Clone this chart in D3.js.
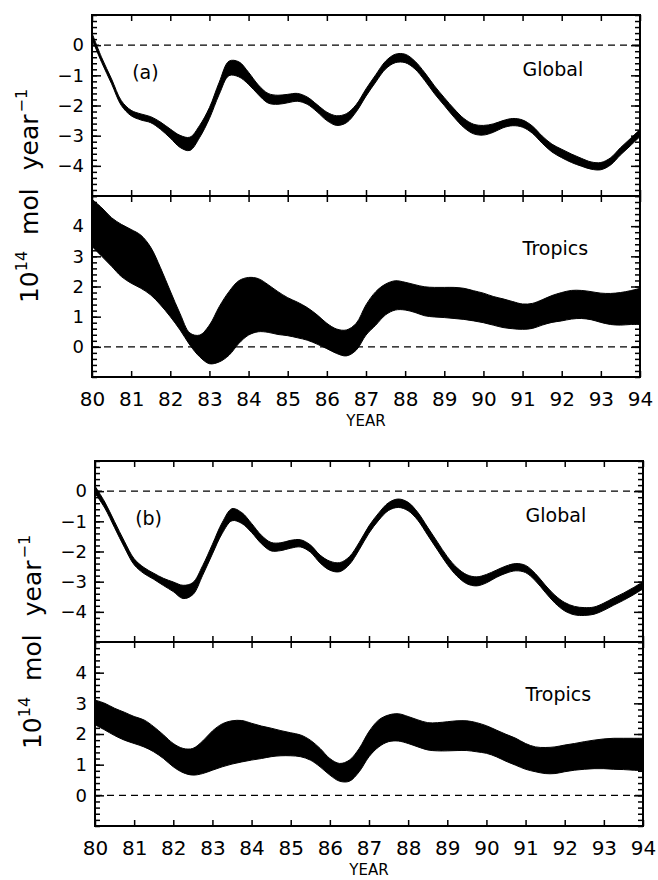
<!DOCTYPE html>
<html>
<head>
<meta charset="utf-8">
<script src="https://cdn.jsdelivr.net/npm/d3@7"></script>
<style>
  html, body { margin: 0; padding: 0; background: #fff; }
  svg { display: block; }
</style>
</head>
<body>
<div id="chart"></div>
<script>
// x grid the bands were read on (years 19xx)
const years = [80, 80.25, 80.5, 80.75, 81, 81.25, 81.5, 81.75, 82, 82.25, 82.5, 82.75,
  83, 83.25, 83.5, 83.75, 84, 84.25, 84.5, 84.75, 85, 85.25, 85.5, 85.75,
  86, 86.25, 86.5, 86.75, 87, 87.25, 87.5, 87.75, 88, 88.25, 88.5, 88.75,
  89, 89.25, 89.5, 89.75, 90, 90.25, 90.5, 90.75, 91, 91.25, 91.5, 91.75,
  92, 92.25, 92.5, 92.75, 93, 93.25, 93.5, 93.75, 94];

const yearTicks = [80, 81, 82, 83, 84, 85, 86, 87, 88, 89, 90, 91, 92, 93, 94];
const globalTicks = [0, -1, -2, -3, -4];
const tropicsTicks = [0, 1, 2, 3, 4];

// (a) global band
const globalALow = [0.2, -0.58, -1.28, -2.0, -2.34, -2.48, -2.57, -2.79, -3.08, -3.39, -3.49, -3.06,
  -2.43, -1.63, -1.01, -1.05, -1.3, -1.64, -1.92, -1.96, -1.91, -1.86, -1.96, -2.21,
  -2.5, -2.66, -2.57, -2.21, -1.69, -1.22, -0.79, -0.58, -0.58, -0.79, -1.17, -1.61,
  -2.0, -2.39, -2.73, -2.94, -2.98, -2.89, -2.74, -2.67, -2.72, -2.92, -3.25, -3.54,
  -3.73, -3.89, -4.01, -4.11, -4.13, -3.97, -3.64, -3.34, -3.03];
const globalAHigh = [0.4, -0.42, -1.12, -1.84, -2.16, -2.28, -2.37, -2.55, -2.78, -2.99, -3.05, -2.66,
  -2.07, -1.23, -0.53, -0.55, -0.9, -1.32, -1.6, -1.66, -1.63, -1.6, -1.72, -1.97,
  -2.22, -2.34, -2.27, -1.97, -1.45, -0.98, -0.53, -0.3, -0.3, -0.53, -0.91, -1.35,
  -1.74, -2.11, -2.43, -2.62, -2.66, -2.61, -2.5, -2.43, -2.48, -2.68, -3.01, -3.28,
  -3.45, -3.61, -3.75, -3.87, -3.89, -3.73, -3.4, -3.1, -2.79];

// (a) tropics band
const tropicsALow = [3.33, 3.0, 2.67, 2.33, 2.11, 1.94, 1.72, 1.39, 1.0, 0.56, 0.06, -0.33,
  -0.56, -0.5, -0.28, 0.11, 0.39, 0.5, 0.48, 0.41, 0.37, 0.3, 0.22, 0.09,
  -0.06, -0.22, -0.3, -0.11, 0.39, 0.72, 1.06, 1.22, 1.22, 1.14, 1.03, 0.99,
  0.97, 0.94, 0.91, 0.86, 0.8, 0.72, 0.64, 0.6, 0.58, 0.61, 0.72, 0.81,
  0.86, 0.92, 0.94, 0.9, 0.81, 0.74, 0.72, 0.74, 0.74];
const tropicsAHigh = [4.89, 4.61, 4.28, 4.06, 3.89, 3.7, 3.3, 2.62, 1.85, 1.1, 0.46, 0.39,
  0.72, 1.33, 1.83, 2.19, 2.3, 2.26, 2.06, 1.83, 1.63, 1.48, 1.3, 1.06,
  0.78, 0.59, 0.56, 0.78, 1.39, 1.83, 2.08, 2.19, 2.14, 2.06, 1.99, 1.97,
  1.97, 1.97, 1.94, 1.86, 1.78, 1.67, 1.59, 1.5, 1.42, 1.44, 1.56, 1.7,
  1.8, 1.87, 1.87, 1.83, 1.78, 1.77, 1.8, 1.86, 1.94];

// (b) global band
const globalBLow = [-0.07, -0.56, -1.21, -1.86, -2.44, -2.73, -2.92, -3.13, -3.33, -3.56, -3.43, -2.79,
  -2.08, -1.4, -0.98, -1.07, -1.37, -1.74, -1.98, -1.97, -1.89, -1.85, -2.02, -2.38,
  -2.62, -2.67, -2.43, -1.94, -1.39, -0.96, -0.64, -0.54, -0.65, -0.97, -1.46, -1.95,
  -2.43, -2.82, -3.07, -3.14, -3.04, -2.86, -2.72, -2.64, -2.7, -2.97, -3.35, -3.71,
  -3.97, -4.1, -4.12, -4.08, -3.95, -3.78, -3.62, -3.44, -3.24];
const globalBHigh = [0.17, -0.36, -1.01, -1.66, -2.24, -2.53, -2.72, -2.89, -3.01, -3.12, -3.03, -2.47,
  -1.76, -1.04, -0.58, -0.71, -1.07, -1.46, -1.7, -1.71, -1.63, -1.61, -1.78, -2.12,
  -2.32, -2.37, -2.17, -1.7, -1.15, -0.72, -0.38, -0.26, -0.37, -0.71, -1.2, -1.69,
  -2.17, -2.54, -2.77, -2.84, -2.76, -2.62, -2.48, -2.4, -2.46, -2.73, -3.11, -3.45,
  -3.69, -3.82, -3.86, -3.84, -3.71, -3.54, -3.38, -3.2, -3.0];

// (b) tropics band
const tropicsBLow = [2.3, 2.13, 1.95, 1.8, 1.69, 1.58, 1.42, 1.2, 0.93, 0.74, 0.66, 0.71,
  0.82, 0.93, 1.02, 1.09, 1.15, 1.2, 1.26, 1.29, 1.29, 1.26, 1.15, 0.93,
  0.66, 0.46, 0.46, 0.77, 1.26, 1.58, 1.75, 1.77, 1.69, 1.58, 1.48, 1.45,
  1.45, 1.46, 1.46, 1.42, 1.37, 1.26, 1.11, 0.98, 0.85, 0.77, 0.71, 0.71,
  0.77, 0.82, 0.85, 0.87, 0.87, 0.85, 0.84, 0.82, 0.8];
const tropicsBHigh = [3.11, 3.0, 2.84, 2.71, 2.57, 2.46, 2.24, 1.97, 1.69, 1.53, 1.53, 1.77,
  2.1, 2.33, 2.43, 2.44, 2.35, 2.26, 2.19, 2.11, 2.04, 1.97, 1.8, 1.53,
  1.2, 1.04, 1.15, 1.53, 2.08, 2.46, 2.62, 2.66, 2.57, 2.46, 2.37, 2.37,
  2.4, 2.43, 2.43, 2.37, 2.27, 2.13, 1.99, 1.86, 1.69, 1.58, 1.56, 1.58,
  1.64, 1.69, 1.75, 1.8, 1.84, 1.86, 1.86, 1.86, 1.86];

const FONT = "'DejaVu Sans', sans-serif";

const svg = d3.select('#chart')
  .append('svg')
  .attr('width', 658)
  .attr('height', 880)
  .style('font-family', FONT);

const figures = [
  { tag: '(a)', left: 92, right: 640, top: 15, mid: 196, bottom: 377,
    global: [globalALow, globalAHigh], tropics: [tropicsALow, tropicsAHigh] },
  { tag: '(b)', left: 95, right: 643, top: 461, mid: 642, bottom: 826,
    global: [globalBLow, globalBHigh], tropics: [tropicsBLow, tropicsBHigh] }
];

const fmt = d => (d < 0 ? '\u2212' + Math.abs(d) : String(d));

function styleAxis(g) {
  g.select('.domain').remove();
  g.selectAll('.tick line').attr('stroke', '#000').attr('stroke-width', 1.5);
  g.selectAll('text').attr('fill', '#000');
}

function drawFigure(f, fi) {
  const x = d3.scaleLinear().domain([80, 94]).range([f.left, f.right]);

  const panels = [
    { name: 'Global', y: d3.scaleLinear().domain([-5, 1]).range([f.mid, f.top]),
      band: f.global, ticks: globalTicks, top: f.top, bottom: f.mid },
    { name: 'Tropics', y: d3.scaleLinear().domain([-1, 5]).range([f.bottom, f.mid]),
      band: f.tropics, ticks: tropicsTicks, top: f.mid, bottom: f.bottom }
  ];

  panels.forEach((p, pi) => {
    const g = svg.append('g');
    const clipId = `clip-${fi}-${pi}`;
    g.append('clipPath').attr('id', clipId)
      .append('rect')
      .attr('x', f.left).attr('y', p.top)
      .attr('width', f.right - f.left).attr('height', p.bottom - p.top);

    // dashed zero line
    g.append('line')
      .attr('x1', f.left).attr('x2', f.right)
      .attr('y1', p.y(0)).attr('y2', p.y(0))
      .attr('stroke', '#000')
      .attr('stroke-width', 1.4)
      .attr('stroke-dasharray', '7,5');

    // uncertainty band
    const area = d3.area()
      .x((d, i) => x(years[i]))
      .y0(d => p.y(d[0]))
      .y1(d => p.y(d[1]))
      .curve(d3.curveCatmullRom.alpha(0.5));

    g.append('path')
      .datum(d3.zip(p.band[0], p.band[1]))
      .attr('d', area)
      .attr('fill', '#000')
      .attr('stroke', '#000')
      .attr('stroke-width', 1)
      .attr('clip-path', `url(#${clipId})`);

    // minor y ticks every 0.2
    const [d0, d1] = p.y.domain();
    const minor = d3.range(Math.round(d0 * 5), Math.round(d1 * 5) + 1).map(k => k / 5);

    g.append('g')
      .attr('transform', `translate(${f.left},0)`)
      .call(d3.axisLeft(p.y).tickValues(minor).tickSize(-5).tickFormat(''))
      .call(styleAxis);
    g.append('g')
      .attr('transform', `translate(${f.right},0)`)
      .call(d3.axisRight(p.y).tickValues(minor).tickSize(-5).tickFormat(''))
      .call(styleAxis);

    // major y ticks with labels on the left
    g.append('g')
      .attr('transform', `translate(${f.left},0)`)
      .call(d3.axisLeft(p.y).tickValues(p.ticks).tickSizeInner(-9).tickSizeOuter(0)
        .tickPadding(8).tickFormat(fmt))
      .call(styleAxis)
      .selectAll('text')
      .attr('font-size', 18)
      .attr('font-family', FONT);
    g.append('g')
      .attr('transform', `translate(${f.right},0)`)
      .call(d3.axisRight(p.y).tickValues(p.ticks).tickSizeInner(-9).tickSizeOuter(0).tickFormat(''))
      .call(styleAxis);

    // year ticks at top and bottom of panel, pointing in
    g.append('g')
      .attr('transform', `translate(0,${p.top})`)
      .call(d3.axisTop(x).tickValues(yearTicks).tickSizeInner(-6).tickSizeOuter(0).tickFormat(''))
      .call(styleAxis);
    g.append('g')
      .attr('transform', `translate(0,${p.bottom})`)
      .call(d3.axisBottom(x).tickValues(yearTicks).tickSizeInner(-6).tickSizeOuter(0).tickFormat(''))
      .call(styleAxis);

    // panel name
    g.append('text')
      .attr('x', x(91))
      .attr('y', p.top + (pi === 0 ? 61 : 59))
      .attr('font-size', 19)
      .attr('fill', '#000')
      .text(p.name);
  });

  // year labels under the tropics panel
  const xa = svg.append('g')
    .attr('transform', `translate(0,${f.bottom})`)
    .call(d3.axisBottom(x).tickValues(yearTicks).tickSize(0).tickFormat(d => d))
    .call(styleAxis);
  xa.selectAll('text')
    .attr('y', 15)
    .attr('dy', '0.71em')
    .attr('font-size', 20)
    .attr('font-family', FONT);

  svg.append('text')
    .attr('x', (f.left + f.right) / 2)
    .attr('y', f.bottom + 49)
    .attr('text-anchor', 'middle')
    .attr('font-size', 15)
    .text('YEAR');

  // frame and divider
  svg.append('rect')
    .attr('x', f.left).attr('y', f.top)
    .attr('width', f.right - f.left).attr('height', f.bottom - f.top)
    .attr('fill', 'none').attr('stroke', '#000').attr('stroke-width', 2);
  svg.append('line')
    .attr('x1', f.left).attr('x2', f.right)
    .attr('y1', f.mid).attr('y2', f.mid)
    .attr('stroke', '#000').attr('stroke-width', 2);

  // panel tag
  svg.append('text')
    .attr('x', x(81) + 1)
    .attr('y', f.top + 64)
    .attr('font-size', 19)
    .text(f.tag);

  // y title
  const t = svg.append('text')
    .attr('transform', `translate(${f.left - 54},${f.mid}) rotate(-90)`)
    .attr('text-anchor', 'middle')
    .attr('font-size', 25)
    .attr('fill', '#000');
  t.append('tspan').text('10');
  t.append('tspan').attr('font-size', 16).attr('dy', -11).text('14');
  t.append('tspan').attr('dx', 16).attr('dy', 11).text('mol');
  t.append('tspan').attr('dx', 18).text('year');
  t.append('tspan').attr('font-size', 16).attr('dx', 2).attr('dy', -11).text('\u22121');
}

figures.forEach(drawFigure);
</script>
</body>
</html>
